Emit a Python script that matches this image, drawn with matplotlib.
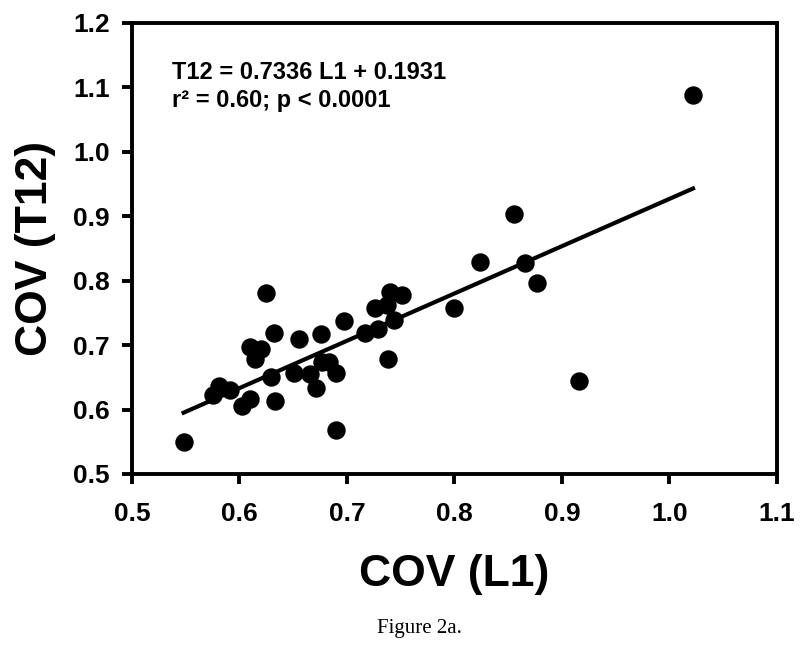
import numpy as np
import matplotlib
matplotlib.use('Agg')
import matplotlib.pyplot as plt

# COV values (L1 on x, T12 on y)
cov_l1 = [0.548, 0.575, 0.581, 0.591, 0.602, 0.610, 0.610, 0.614, 0.620, 0.625,
          0.629, 0.632, 0.633, 0.651, 0.655, 0.666, 0.671, 0.676, 0.677, 0.683,
          0.690, 0.690, 0.697, 0.717, 0.729, 0.726, 0.737, 0.740, 0.751, 0.744,
          0.738, 0.800, 0.824, 0.855, 0.866, 0.877, 0.916, 1.022]
cov_t12 = [0.550, 0.622, 0.636, 0.630, 0.605, 0.617, 0.697, 0.678, 0.694, 0.781,
           0.650, 0.718, 0.614, 0.657, 0.709, 0.655, 0.634, 0.717, 0.673, 0.673,
           0.657, 0.569, 0.737, 0.719, 0.725, 0.758, 0.762, 0.783, 0.778, 0.739,
           0.679, 0.758, 0.829, 0.903, 0.827, 0.796, 0.644, 1.088]

# regression reported in the figure
slope = 0.7336
intercept = 0.1931

xticks = [0.5, 0.6, 0.7, 0.8, 0.9, 1.0, 1.1]
yticks = [0.5, 0.6, 0.7, 0.8, 0.9, 1.0, 1.1, 1.2]

plt.rcParams['font.family'] = ['Liberation Sans', 'DejaVu Sans']
plt.rcParams['font.weight'] = 'bold'

fig = plt.figure(figsize=(8.0, 6.51), dpi=100)
ax = fig.add_axes([0.165, 0.2719, 0.806, 0.6932])

ax.scatter(cov_l1, cov_t12, s=150, color='black', zorder=3)

xfit = np.array([min(cov_l1), max(cov_l1)])
ax.plot(xfit, slope * xfit + intercept, color='black', linewidth=3, zorder=2)

ax.set_xlim(0.5, 1.1)
ax.set_ylim(0.5, 1.2)
ax.set_xticks(xticks)
ax.set_yticks(yticks)
ax.set_xticklabels(['%.1f' % v for v in xticks])
ax.set_yticklabels(['%.1f' % v for v in yticks])
ax.tick_params(direction='out', length=7, width=2.8, labelsize=19)
ax.tick_params(axis='x', pad=13)
ax.tick_params(axis='y', pad=9)
for s in ax.spines.values():
    s.set_linewidth(2.8)

ax.set_xlabel('COV (L1)', fontsize=32, fontweight='bold', labelpad=20)
ax.set_ylabel('COV (T12)', fontsize=32, fontweight='bold', labelpad=12)

ax.text(0.062, 0.875, 'T12 = 0.7336 L1 + 0.1931', transform=ax.transAxes,
        fontsize=17, fontweight='bold', va='baseline', ha='left')
ax.text(0.062, 0.813, 'r² = 0.60; p < 0.0001', transform=ax.transAxes,
        fontsize=17, fontweight='bold', va='baseline', ha='left')

fig.text(0.524, 0.0276, 'Figure 2a.', family='Liberation Serif',
         fontweight='normal', fontsize=15, ha='center', va='baseline')

plt.savefig('out.png', dpi=100)
